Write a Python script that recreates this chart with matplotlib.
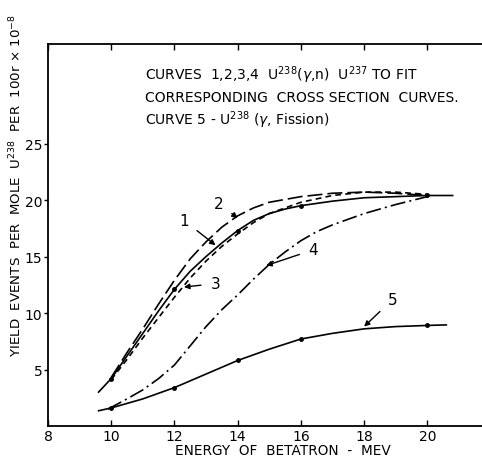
import matplotlib
matplotlib.use("Agg")
import matplotlib.pyplot as plt

# ---- data ----
c1_x = [9.6, 10, 10.5, 11, 11.5, 12, 12.5, 13, 13.5, 14, 14.5, 15, 15.5, 16, 17, 18, 19, 20, 20.8]
c1_y = [3.0, 4.2, 6.2, 8.2, 10.2, 12.1, 13.7, 15.0, 16.2, 17.3, 18.2, 18.8, 19.2, 19.5, 19.9, 20.2, 20.3, 20.4, 20.4]
c1_pts_x = [10, 12, 14, 16, 20]
c1_pts_y = [4.2, 12.1, 17.3, 19.5, 20.4]

c2_x = [10, 10.5, 11, 11.5, 12, 12.5, 13, 13.5, 14, 14.5, 15, 16, 17, 18, 19, 20]
c2_y = [4.3, 6.5, 8.6, 10.8, 12.9, 14.8, 16.3, 17.6, 18.6, 19.3, 19.8, 20.3, 20.6, 20.7, 20.6, 20.4]

c3_x = [10, 10.5, 11, 11.5, 12, 12.5, 13, 13.5, 14, 14.5, 15, 16, 17, 18, 19, 20]
c3_y = [4.1, 5.9, 7.8, 9.6, 11.4, 13.1, 14.6, 15.9, 17.0, 18.0, 18.8, 19.8, 20.4, 20.7, 20.7, 20.5]

c4_x = [9.9, 10.5, 11, 11.5, 12, 12.5, 13, 13.5, 14, 14.5, 15, 15.5, 16, 16.5, 17, 18, 19, 20]
c4_y = [1.5, 2.4, 3.2, 4.2, 5.4, 7.1, 8.8, 10.3, 11.6, 13.0, 14.3, 15.4, 16.4, 17.2, 17.8, 18.8, 19.6, 20.3]

c5_x = [9.6, 10, 11, 12, 13, 14, 15, 16, 17, 18, 19, 20, 20.6]
c5_y = [1.35, 1.6, 2.4, 3.4, 4.6, 5.8, 6.8, 7.7, 8.2, 8.6, 8.8, 8.9, 8.95]
c5_pts_x = [10, 12, 14, 16, 20]
c5_pts_y = [1.6, 3.4, 5.8, 7.7, 8.9]

x_ticks = [8, 10, 12, 14, 16, 18, 20]
y_ticks = [5, 10, 15, 20, 25]

# curve labels: (text, label position, arrow tip)
labels = ["1", "2", "3", "4", "5"]
label_xy = [(12.3, 18.2), (13.4, 19.7), (13.3, 12.6), (16.4, 15.6), (18.9, 11.2)]
tip_xy = [(13.3, 16.0), (14.0, 18.4), (12.3, 12.3), (14.9, 14.2), (18.0, 8.8)]

fig = plt.figure(figsize=(4.82, 4.60), dpi=100)
ax = fig.add_axes([0.0996, 0.0717, 0.905, 0.8303])

lw = 1.2
ax.plot(c1_x, c1_y, color="black", lw=lw)
ax.plot(c1_pts_x, c1_pts_y, "o", color="black", ms=2.5)
ax.plot(c2_x, c2_y, color="black", lw=lw, dashes=(9, 3))
ax.plot(c3_x, c3_y, color="black", lw=lw, dashes=(3.5, 2.5))
ax.plot(c4_x, c4_y, color="black", lw=lw, dashes=(9, 2.5, 1.2, 2.5))
ax.plot(c5_x, c5_y, color="black", lw=lw)
ax.plot(c5_pts_x, c5_pts_y, "o", color="black", ms=2.5)

for t, (lx, ly), (tx, ty) in zip(labels, label_xy, tip_xy):
    ax.annotate(t, xy=(tx, ty), xytext=(lx, ly), fontsize=11,
                ha="center", va="center",
                arrowprops=dict(arrowstyle="-|>", color="black", lw=1.0,
                                mutation_scale=8, shrinkA=5, shrinkB=0))

ax.set_xlim(8, 21.8)
ax.set_ylim(0, 33.8)
ax.set_xticks(x_ticks)
ax.set_xticklabels([str(v) for v in x_ticks], fontsize=10)
ax.set_yticks(y_ticks)
ax.set_yticklabels([str(v) for v in y_ticks], fontsize=10)
ax.tick_params(axis="x", direction="in", length=4, width=1, pad=2, top=True)
ax.tick_params(axis="y", direction="out", length=3, width=1, pad=1)
ax.spines["right"].set_visible(False)
for s in ["left", "bottom", "top"]:
    ax.spines[s].set_linewidth(1.3)

ax.text(0.222, 0.921,
        r"CURVES  1,2,3,4  U$^{238}$($\gamma$,n)  U$^{237}$ TO FIT",
        transform=ax.transAxes, fontsize=10, va="center")
ax.text(0.222, 0.861, "CORRESPONDING  CROSS SECTION  CURVES.",
        transform=ax.transAxes, fontsize=10, va="center")
ax.text(0.222, 0.803, r"CURVE 5 - U$^{238}$ ($\gamma$, Fission)",
        transform=ax.transAxes, fontsize=10, va="center")

fig.text(283 / 482, 1 - 451 / 460, "ENERGY  OF  BETATRON  -  MEV",
         ha="center", va="center", fontsize=9.8)
fig.text(16 / 482, 1 - 186 / 460,
         r"YIELD  EVENTS  PER  MOLE  U$^{238}$  PER  100r $\times$ 10$^{-8}$",
         ha="center", va="center", rotation=90, fontsize=9.6)

fig.savefig("out.png", dpi=100)
